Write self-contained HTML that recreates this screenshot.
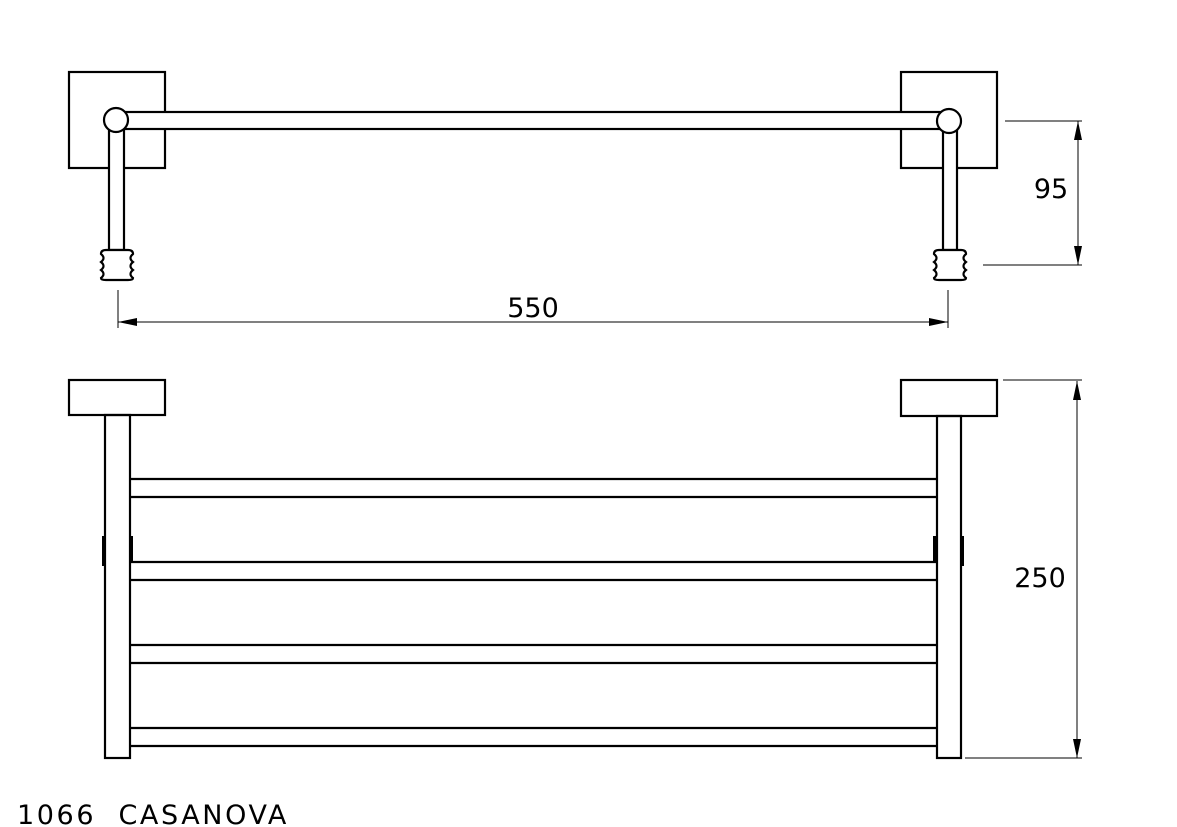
<!DOCTYPE html>
<html><head><meta charset="utf-8"><style>
html,body{margin:0;padding:0;background:#fff;}
svg{display:block;}
text{font-family:"DejaVu Sans","Liberation Sans",sans-serif;fill:#000;}
</style></head><body>
<svg width="1177" height="827" viewBox="0 0 1177 827" xmlns="http://www.w3.org/2000/svg">
<g fill="none" stroke="#000" stroke-width="2.2">
<rect x="69" y="72" width="96" height="96" fill="#fff"/>
<rect x="901" y="72" width="96" height="96" fill="#fff"/>
<rect x="122" y="112" width="822" height="17" fill="#fff"/>
<rect x="109" y="128" width="15" height="122" fill="#fff"/>
<rect x="943" y="130" width="14" height="120" fill="#fff"/>
<circle cx="116" cy="120" r="12" fill="#fff"/>
<circle cx="949" cy="121" r="12" fill="#fff"/>
<path d="M106,250 H128 Q133,250 133,254 Q128,258 133,262 Q128,266 133,270 Q128,274 133,278 Q133,280 128,280 H106 Q101,280 101,278 Q106,274 101,270 Q106,266 101,262 Q106,258 101,254 Q101,250 106,250 Z" fill="#fff"/>
<path d="M939,250 H961 Q966,250 966,254 Q961,258 966,262 Q961,266 966,270 Q961,274 966,278 Q966,280 961,280 H939 Q934,280 934,278 Q939,274 934,270 Q939,266 934,262 Q939,258 934,254 Q934,250 939,250 Z" fill="#fff"/>
<rect x="69" y="380" width="96" height="35"/>
<rect x="901" y="380" width="96" height="36"/>
<rect x="105" y="415" width="25" height="343"/>
<rect x="937" y="416" width="24" height="342"/>
<path d="M130,479 H937 M130,497 H937 M130,562 H937 M130,580 H937 M130,645 H937 M130,663 H937 M130,728 H937 M130,746 H937"/>
</g>
<g stroke="#000" stroke-width="4" fill="none">
<path d="M104,536 V566 M131,536 V562 M935,536 V562 M962,536 V566"/>
</g>
<g stroke="#000" stroke-width="1" fill="none">
<path d="M1005,121 H1082 M983,265 H1082 M1078,121 V265"/>
<path d="M118,290 V328 M948,290 V328 M118,322 H948"/>
<path d="M1003,380 H1082 M965,758 H1082 M1077,381 V758"/>
</g>
<g fill="#000">
<polygon points="1078,121 1074,140 1082,140"/>
<polygon points="1078,265 1074,246 1082,246"/>
<polygon points="118,322 137,318 137,326"/>
<polygon points="948,322 929,318 929,326"/>
<polygon points="1077,381 1073,400 1081,400"/>
<polygon points="1077,758 1073,739 1081,739"/>
</g>
<text x="1051" y="198" font-size="27" text-anchor="middle">95</text>
<text x="533" y="317" font-size="27" text-anchor="middle">550</text>
<text x="1040" y="587" font-size="27" text-anchor="middle">250</text>
<text x="17" y="824" font-size="27" letter-spacing="2.6" style="white-space:pre" xml:space="preserve">1066  CASANOVA</text>
</svg>
</body></html>
